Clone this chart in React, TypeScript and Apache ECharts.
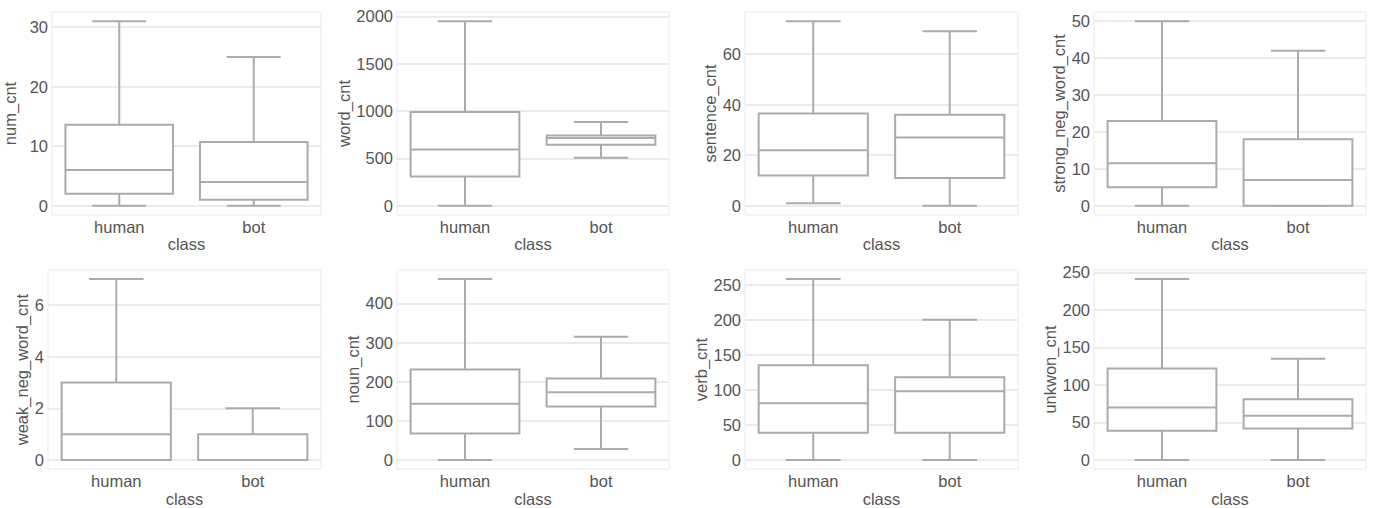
import React, { useEffect, useRef } from "react";
import * as echarts from "echarts";

// ---------- data (box stats: [lower whisker, q1, median, q3, upper whisker]) ----------
const categories = ["human", "bot"];

const numCntHuman = [0, 2, 6, 13.6, 31];
const numCntBot = [0, 1, 4, 10.7, 25];
const wordCntHuman = [0, 308, 595, 990, 1948];
const wordCntBot = [508, 645, 715, 742, 885];
const sentenceCntHuman = [1, 12, 22, 36.5, 73];
const sentenceCntBot = [0, 11, 27, 36, 69];
const strongNegHuman = [0, 5, 11.5, 23, 50];
const strongNegBot = [0, 0, 7, 18, 42];
const weakNegHuman = [0, 0, 1, 3, 7];
const weakNegBot = [0, 0, 0, 1, 2];
const nounCntHuman = [0, 68, 144, 231, 462];
const nounCntBot = [28, 137, 173, 208, 315];
const verbCntHuman = [0, 39, 81, 135, 258];
const verbCntBot = [0, 39, 98, 118, 200];
const unkwonCntHuman = [0, 39, 70, 122, 241];
const unkwonCntBot = [0, 42, 59, 81, 135];

const yNames = [
  "num_cnt",
  "word_cnt",
  "sentence_cnt",
  "strong_neg_word_cnt",
  "weak_neg_word_cnt",
  "noun_cnt",
  "verb_cnt",
  "unkwon_cnt",
];

const panelData = [
  [numCntHuman, numCntBot],
  [wordCntHuman, wordCntBot],
  [sentenceCntHuman, sentenceCntBot],
  [strongNegHuman, strongNegBot],
  [weakNegHuman, weakNegBot],
  [nounCntHuman, nounCntBot],
  [verbCntHuman, verbCntBot],
  [unkwonCntHuman, unkwonCntBot],
];

const ticksNum = [0, 10, 20, 30];
const ticksWord = [0, 500, 1000, 1500, 2000];
const ticksSentence = [0, 20, 40, 60];
const ticksStrong = [0, 10, 20, 30, 40, 50];
const ticksWeak = [0, 2, 4, 6];
const ticksNoun = [0, 100, 200, 300, 400];
const ticksVerb = [0, 50, 100, 150, 200, 250];
const ticksUnkwon = [0, 50, 100, 150, 200, 250];

const panelTicks = [
  ticksNum,
  ticksWord,
  ticksSentence,
  ticksStrong,
  ticksWeak,
  ticksNoun,
  ticksVerb,
  ticksUnkwon,
];

// ---------- layout / style ----------
const colLeft = [48, 397, 745, 1094];
const colRight = [321, 669, 1018, 1366];
const rowTop = [12, 270];
const rowBottom = [215, 473];
const yNameGaps = [34, 37, 23, 26, 17, 33, 33, 31];

const BOX_COLOR = "#ababab";
const GRID_COLOR = "#e4e4e4";
const FRAME_COLOR = "#ebebeb";
const TEXT_COLOR = "#555555";
const FONT = "Liberation Sans, Arial, sans-serif";
const FS = 16.5;
const W = 1378;
const H = 508;

function buildOption() {
  const grid: any[] = [];
  const xAxis: any[] = [];
  const yAxis: any[] = [];
  const series: any[] = [];

  for (let i = 0; i < 8; i++) {
    const col = i % 4;
    const row = Math.floor(i / 4);
    grid.push({
      left: colLeft[col],
      width: colRight[col] - colLeft[col],
      top: rowTop[row],
      height: rowBottom[row] - rowTop[row],
      show: true,
      borderColor: FRAME_COLOR,
      borderWidth: 1,
      backgroundColor: "transparent",
    });

    const [hum, bot] = panelData[i];
    const lo = Math.min(hum[0], bot[0]);
    const hi = Math.max(hum[4], bot[4]);
    const pad = (hi - lo) * 0.05;

    xAxis.push({
      type: "category",
      gridIndex: i,
      data: categories,
      boundaryGap: true,
      axisLine: { show: false },
      axisTick: { show: false },
      splitLine: { show: false },
      axisLabel: {
        color: TEXT_COLOR,
        fontSize: FS,
        fontFamily: FONT,
        margin: 3,
      },
      name: "class",
      nameLocation: "middle",
      nameGap: 19,
      nameTextStyle: { color: TEXT_COLOR, fontSize: FS, fontFamily: FONT },
    });

    yAxis.push({
      type: "value",
      gridIndex: i,
      min: lo - pad,
      max: hi + pad,
      axisLine: { show: false },
      axisTick: { show: false, customValues: panelTicks[i] },
      axisLabel: {
        color: TEXT_COLOR,
        fontSize: FS,
        fontFamily: FONT,
        margin: 4,
        customValues: panelTicks[i],
        formatter: (v: number) => String(v),
        showMinLabel: true,
        showMaxLabel: true,
      },
      splitLine: {
        show: true,
        lineStyle: { color: GRID_COLOR, width: 1.5 },
      },
      name: yNames[i],
      nameLocation: "middle",
      nameGap: yNameGaps[i],
      nameTextStyle: { color: TEXT_COLOR, fontSize: FS, fontFamily: FONT },
    });

    series.push({
      type: "custom",
      xAxisIndex: i,
      yAxisIndex: i,
      encode: { x: 0, y: [1, 2, 3, 4, 5] },
      data: [
        [0, ...hum],
        [1, ...bot],
      ],
      renderItem: (_params: any, api: any) => {
        const cat = api.value(0);
        const pLo = api.coord([cat, api.value(1)]);
        const pQ1 = api.coord([cat, api.value(2)]);
        const pMed = api.coord([cat, api.value(3)]);
        const pQ3 = api.coord([cat, api.value(4)]);
        const pHi = api.coord([cat, api.value(5)]);
        const bw = api.size([1, 0])[0] * 0.8;
        const cx = pLo[0];
        const half = bw / 2;
        const cap = bw / 4;
        const style = { stroke: BOX_COLOR, lineWidth: 2, fill: null };
        return {
          type: "group",
          children: [
            { type: "line", shape: { x1: cx, y1: pQ3[1], x2: cx, y2: pHi[1] }, style },
            { type: "line", shape: { x1: cx, y1: pQ1[1], x2: cx, y2: pLo[1] }, style },
            { type: "line", shape: { x1: cx - cap, y1: pHi[1], x2: cx + cap, y2: pHi[1] }, style },
            { type: "line", shape: { x1: cx - cap, y1: pLo[1], x2: cx + cap, y2: pLo[1] }, style },
            {
              type: "rect",
              shape: { x: cx - half, y: pQ3[1], width: bw, height: pQ1[1] - pQ3[1] },
              style: { stroke: BOX_COLOR, lineWidth: 2, fill: "#ffffff" },
            },
            { type: "line", shape: { x1: cx - half, y1: pMed[1], x2: cx + half, y2: pMed[1] }, style },
          ],
        };
      },
    });
  }

  return {
    animation: false,
    backgroundColor: "#ffffff",
    textStyle: { fontFamily: FONT },
    grid,
    xAxis,
    yAxis,
    series,
  };
}

export default function App() {
  const ref = useRef<HTMLDivElement>(null);
  useEffect(() => {
    if (!ref.current) return;
    const chart = echarts.init(ref.current, null, { renderer: "svg" });
    chart.setOption(buildOption() as any);
    return () => chart.dispose();
  }, []);
  return (
    <div
      ref={ref}
      style={{ position: "fixed", left: 0, top: 0, width: W, height: H, background: "#fff" }}
    />
  );
}
